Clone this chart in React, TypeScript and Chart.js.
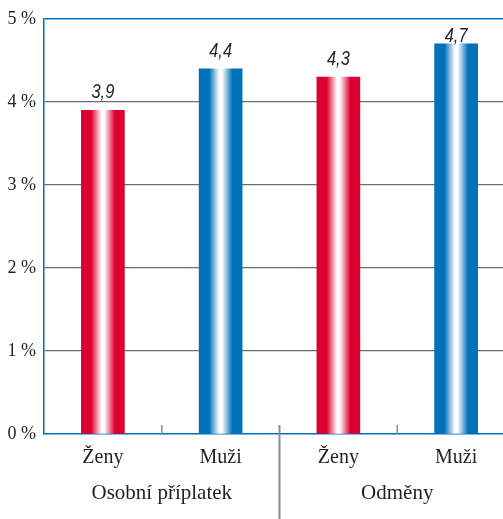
import React, { useEffect, useRef } from "react";
import { Chart, registerables } from "chart.js";

Chart.register(...registerables);

const categories = ["Ženy", "Muži", "Ženy", "Muži"];
const groups = ["Osobní příplatek", "Odměny"];
const groupOf = [0, 0, 1, 1];
const values = [3.9, 4.4, 4.3, 4.7];
const valueLabels = ["3,9", "4,4", "4,3", "4,7"];
const yMin = 0;
const yMax = 5;
const yStep = 1;

const RED = "#dc0030";
const BLUE = "#0070ba";
const GRID = "#6e6e6e";
const SEP = "#8a8a8a";
const TEXT = "#231f20";
const BAR_W = 43;
const SERIF = "'Liberation Serif', 'Times New Roman', serif";

const baseColor = (i: number) => (categories[i] === "Ženy" ? RED : BLUE);

const extras = {
  id: "extras",
  afterDraw(chart: any) {
    const { ctx, chartArea, scales } = chart;
    const x = scales.x;
    ctx.save();
    for (let i = 1; i < categories.length; i++) {
      const px = (x.getPixelForValue(i - 1) + x.getPixelForValue(i)) / 2;
      const isGroupBreak = groupOf[i] !== groupOf[i - 1];
      ctx.beginPath();
      ctx.strokeStyle = SEP;
      ctx.lineWidth = isGroupBreak ? 2 : 1.5;
      ctx.moveTo(px, chartArea.bottom - 9);
      ctx.lineTo(px, isGroupBreak ? chart.height : chartArea.bottom);
      ctx.stroke();
    }
    // value labels (condensed italic)
    const meta = chart.getDatasetMeta(0);
    ctx.fillStyle = TEXT;
    ctx.font = "italic 21px 'Liberation Sans', Arial, sans-serif";
    ctx.textAlign = "center";
    ctx.textBaseline = "alphabetic";
    const sx = 0.78;
    meta.data.forEach((el: any, i: number) => {
      const y = Math.max(el.y - 12, chartArea.top + 23);
      ctx.save();
      ctx.translate(el.x, y);
      ctx.scale(sx, 1);
      ctx.fillText(valueLabels[i], 0, 0);
      ctx.restore();
    });
    ctx.restore();
  },
};

export default function App() {
  const ref = useRef<HTMLCanvasElement | null>(null);

  useEffect(() => {
    if (!ref.current) return;
    const chart = new Chart(ref.current, {
      type: "bar",
      data: {
        labels: categories,
        datasets: [
          {
            data: values,
            barThickness: BAR_W,
            borderWidth: 0,
            backgroundColor: (c: any) => {
              const i = c.dataIndex ?? 0;
              const col = baseColor(i);
              const chart = c.chart;
              const sx = chart.scales?.x;
              if (!sx) return col;
              const px = sx.getPixelForValue(i);
              if (!isFinite(px)) return col;
              const g = chart.ctx.createLinearGradient(px - BAR_W / 2, 0, px + BAR_W / 2, 0);
              g.addColorStop(0, col);
              g.addColorStop(0.23, col);
              g.addColorStop(0.47, "#ffffff");
              g.addColorStop(0.53, "#ffffff");
              g.addColorStop(0.78, col);
              g.addColorStop(1, col);
              return g;
            },
          },
        ],
      },
      options: {
        responsive: false,
        animation: false,
        devicePixelRatio: 1,
        layout: { padding: { top: 19, left: 0, right: 0, bottom: 0 } },
        plugins: {
          legend: { display: false },
          tooltip: { enabled: false },
        },
        scales: {
          x: {
            type: "category",
            position: "bottom",
            weight: 0,
            grid: { display: false, drawTicks: false },
            border: { display: true, color: BLUE, width: 1.5 },
            ticks: {
              color: TEXT,
              padding: 12,
              font: { family: SERIF, size: 20 },
              maxRotation: 0,
              autoSkip: false,
            },
            afterFit: (s: any) => {
              s.height = 37;
            },
          },
          x2: {
            type: "category",
            position: "bottom",
            weight: 1,
            labels: groups,
            offset: true,
            grid: { display: false, drawTicks: false },
            border: { display: false },
            ticks: {
              color: TEXT,
              padding: 10,
              font: { family: SERIF, size: 21 },
              maxRotation: 0,
              autoSkip: false,
            },
            afterFit: (s: any) => {
              s.height = 48;
            },
          },
          y: {
            min: yMin,
            max: yMax,
            grid: {
              drawTicks: false,
              color: (c: any) =>
                c.tick?.value === yMax ? BLUE : c.tick?.value === yMin ? "rgba(0,0,0,0)" : GRID,
              lineWidth: (c: any) => (c.tick?.value === yMax ? 1.5 : 1.2),
            },
            border: { display: true, color: BLUE, width: 1.5 },
            ticks: {
              stepSize: yStep,
              color: TEXT,
              padding: 8,
              font: { family: SERIF, size: 18 },
              callback: (v: any) => `${v} %`,
            },
            afterFit: (s: any) => {
              s.width = 44;
            },
          },
        },
      },
      plugins: [extras],
    });
    return () => chart.destroy();
  }, []);

  return (
    <div
      style={{
        position: "fixed",
        left: 0,
        top: 0,
        width: 503,
        height: 519,
        overflow: "hidden",
        background: "#fff",
      }}
    >
      <canvas ref={ref} width={515} height={519} style={{ display: "block" }} />
    </div>
  );
}
